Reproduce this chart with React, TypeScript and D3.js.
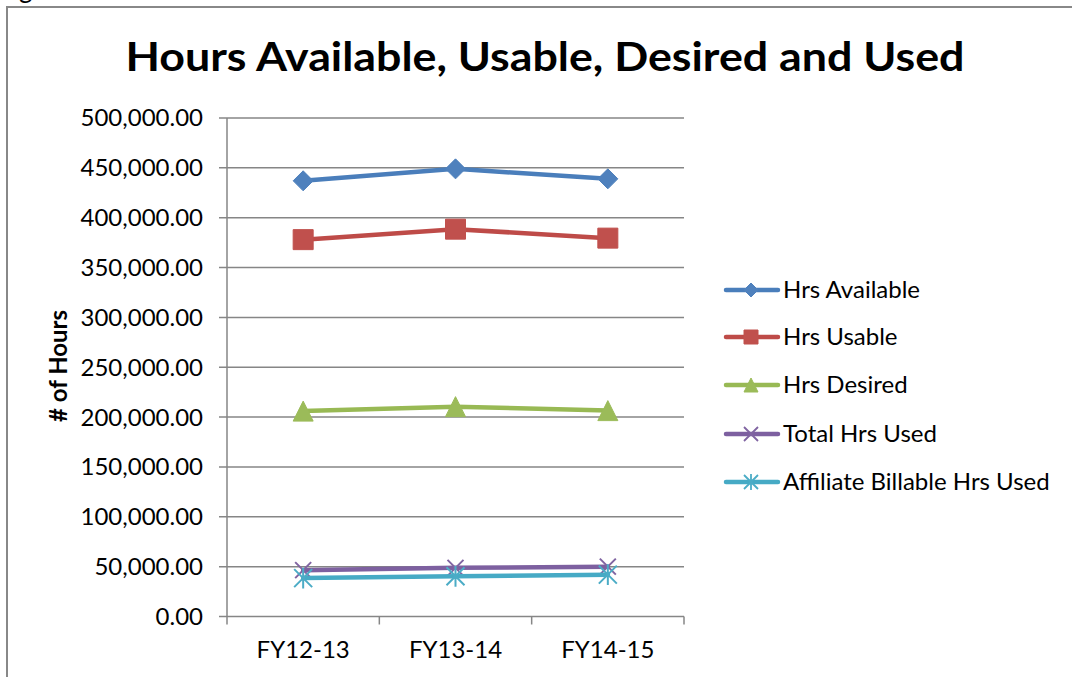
import React from "react";
import * as d3 from "d3";

const categories = ["FY12-13", "FY13-14", "FY14-15"];
const seriesNames = ["Hrs Available", "Hrs Usable", "Hrs Desired", "Total Hrs Used", "Affiliate Billable Hrs Used"];
const hrsAvailable = [437000, 449000, 439000];
const hrsUsable = [378000, 388500, 379500];
const hrsDesired = [206000, 210500, 206500];
const totalHrsUsed = [46500, 48800, 50000];
const affiliateHrsUsed = [38500, 40300, 42000];
const yTicks = [0, 50000, 100000, 150000, 200000, 250000, 300000, 350000, 400000, 450000, 500000];

const seriesValues = [hrsAvailable, hrsUsable, hrsDesired, totalHrsUsed, affiliateHrsUsed];
const lineColors = ["#4A7EBB", "#BE4B48", "#98B954", "#7D60A0", "#46AAC5"];
const markerColors = ["#4F81BD", "#C0504D", "#9BBB59", "#8064A2", "#4BACC6"];
const markerTypes = ["diamond", "square", "triangle", "x", "star"];

const FONT = "Lato, 'Open Sans', sans-serif";

function markerPath(type: string, cx: number, cy: number, r: number): { d: string; fill: boolean } {
  const p = d3.path();
  if (type === "diamond") {
    p.moveTo(cx, cy - r); p.lineTo(cx + r, cy); p.lineTo(cx, cy + r); p.lineTo(cx - r, cy); p.closePath();
    return { d: p.toString(), fill: true };
  }
  if (type === "square") {
    p.rect(cx - r, cy - r, 2 * r, 2 * r);
    return { d: p.toString(), fill: true };
  }
  if (type === "triangle") {
    p.moveTo(cx, cy - r); p.lineTo(cx + r, cy + r); p.lineTo(cx - r, cy + r); p.closePath();
    return { d: p.toString(), fill: true };
  }
  if (type === "x") {
    p.moveTo(cx - r, cy - r); p.lineTo(cx + r, cy + r);
    p.moveTo(cx + r, cy - r); p.lineTo(cx - r, cy + r);
    return { d: p.toString(), fill: false };
  }
  p.moveTo(cx - r, cy - r); p.lineTo(cx + r, cy + r);
  p.moveTo(cx + r, cy - r); p.lineTo(cx - r, cy + r);
  p.moveTo(cx, cy - r * 1.15); p.lineTo(cx, cy + r * 1.15);
  return { d: p.toString(), fill: false };
}

export default function App() {
  const W = 1072, H = 677;
  const x0 = 227, x1 = 684, yTop = 118, yBot = 616.5;
  const x = d3.scaleBand<string>().domain(categories).range([x0, x1]).padding(0);
  const y = d3.scaleLinear().domain([0, 500000]).range([yBot, yTop]);
  const fmt = d3.format(",.2f");
  const cx = (c: string) => (x(c) as number) + x.bandwidth() / 2;
  const line = d3.line<number>().x((_, i) => cx(categories[i])).y((v) => y(v));
  const markerR = [10, 10, 10, 8, 9];
  const legendY = [290, 337, 385, 434, 482];

  return (
    <svg width={W} height={H} style={{ position: "absolute", left: 0, top: 0, background: "#fff" }} fontFamily={FONT}>
      <rect x={0} y={0} width={W} height={H} fill="#fff" />
      <text x={19} y={-2} fontSize={26} fill="#000">g</text>
      <rect x={7} y={7} width={W + 10} height={H + 10} fill="none" stroke="#888" strokeWidth={2} />
      <text x={545} y={71} textAnchor="middle" fontSize={40} fontWeight={700} fill="#000" textLength={839} lengthAdjust="spacingAndGlyphs">
        Hours Available, Usable, Desired and Used
      </text>
      {yTicks.map((t) => (
        <g key={t}>
          <line x1={219} x2={x1} y1={y(t)} y2={y(t)} stroke="#868686" strokeWidth={1.5} />
          <text x={203} y={y(t)} dy="0.35em" textAnchor="end" fontSize={24} fill="#000">{fmt(t)}</text>
        </g>
      ))}
      <line x1={x0} x2={x0} y1={yTop} y2={yBot} stroke="#868686" strokeWidth={1.5} />
      {[...categories.map((c) => x(c) as number), x1].map((v, i) => (
        <line key={i} x1={v} x2={v} y1={yBot} y2={yBot + 8} stroke="#868686" strokeWidth={1.5} />
      ))}
      {categories.map((c) => (
        <text key={c} x={cx(c)} y={658} textAnchor="middle" fontSize={24} fill="#000">{c}</text>
      ))}
      <text transform={`translate(67,366) rotate(-90)`} textAnchor="middle" fontSize={24} fontWeight={700} fill="#000">
        # of Hours
      </text>
      {seriesValues.map((vals, si) => (
        <g key={si}>
          <path d={line(vals) as string} fill="none" stroke={lineColors[si]} strokeWidth={4.5} strokeLinejoin="round" strokeLinecap="round" />
          {vals.map((v, i) => {
            const m = markerPath(markerTypes[si], cx(categories[i]), y(v), markerR[si]);
            return m.fill ? (
              <path key={i} d={m.d} fill={markerColors[si]} stroke={markerColors[si]} strokeWidth={1} />
            ) : (
              <path key={i} d={m.d} fill="none" stroke={markerColors[si]} strokeWidth={2} />
            );
          })}
        </g>
      ))}
      {seriesNames.map((n, si) => {
        const ly = legendY[si];
        const m = markerPath(markerTypes[si], 751, ly, 7);
        return (
          <g key={n}>
            <line x1={726} x2={778} y1={ly} y2={ly} stroke={lineColors[si]} strokeWidth={4.5} strokeLinecap="round" />
            {m.fill ? (
              <path d={m.d} fill={markerColors[si]} stroke={markerColors[si]} strokeWidth={1} />
            ) : (
              <path d={m.d} fill="none" stroke={markerColors[si]} strokeWidth={1.8} />
            )}
            <text x={783} y={ly} dy="0.35em" fontSize={24} fill="#000">{n}</text>
          </g>
        );
      })}
    </svg>
  );
}
